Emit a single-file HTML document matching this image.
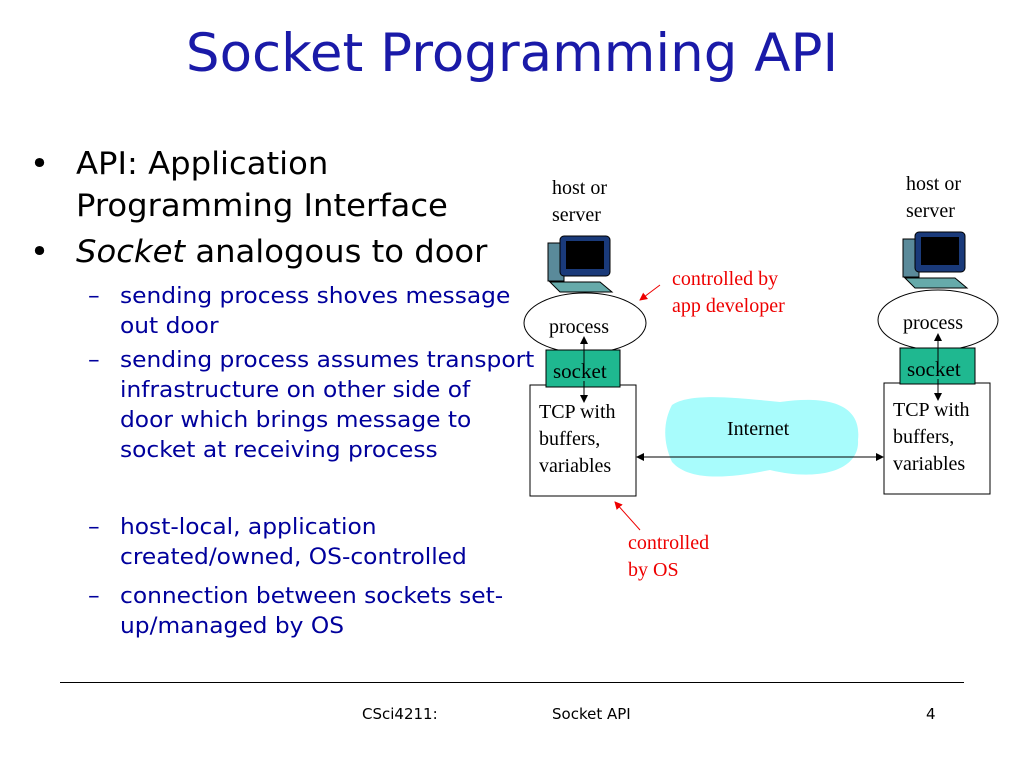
<!DOCTYPE html>
<html><head><meta charset="utf-8"><style>
body{margin:0;width:1024px;height:768px;background:#fff;position:relative;overflow:hidden;font-family:"DejaVu Sans","Liberation Sans",sans-serif}
.a{position:absolute;white-space:nowrap}
.t{font-family:"Liberation Serif",serif;font-size:20px;line-height:27px}
.b1{font-size:31px;color:#000;line-height:42px;transform:scaleX(1.04);transform-origin:left top}
.b2{font-size:22px;color:#00009c;line-height:30px;transform:scaleX(1.06);transform-origin:left top}
</style></head><body>
<div class="a" style="left:0;width:1024px;text-align:center;top:23px;font-size:53px;color:#1a1aa8">Socket Programming API</div>
<div class="a b1" style="left:30px;top:143px">•</div>
<div class="a b1" style="left:76px;top:143px">API: Application<br>Programming Interface</div>
<div class="a b1" style="left:30px;top:231px">•</div>
<div class="a b1" style="left:76px;top:231px"><i>Socket</i> analogous to door</div>
<div class="a b2" style="left:88px;top:282px">–</div>
<div class="a b2" style="left:120px;top:282px">sending process shoves message<br>out door</div>
<div class="a b2" style="left:88px;top:346px">–</div>
<div class="a b2" style="left:120px;top:346px">sending process assumes transport<br>infrastructure on other side of<br>door which brings message to<br>socket at receiving process</div>
<div class="a b2" style="left:88px;top:513px">–</div>
<div class="a b2" style="left:120px;top:513px">host-local, application<br>created/owned, OS-controlled</div>
<div class="a b2" style="left:88px;top:582px">–</div>
<div class="a b2" style="left:120px;top:582px">connection between sockets set-<br>up/managed by OS</div>
<div class="a" style="left:60px;top:682px;width:904px;border-top:1px solid #000"></div>
<div class="a" style="left:362px;top:705px;font-size:15px">CSci4211:</div>
<div class="a" style="left:552px;top:705px;font-size:15px">Socket API</div>
<div class="a" style="left:926px;top:705px;font-size:15px">4</div>
<svg class="a" style="left:0;top:0" width="1024" height="768">
<defs><marker id="m" markerWidth="8" markerHeight="8" refX="7" refY="4" orient="auto"><path d="M0,0L8,4L0,8z" fill="#000"/></marker>
<marker id="r" markerWidth="8" markerHeight="8" refX="7" refY="4" orient="auto"><path d="M0,0L8,4L0,8z" fill="#e00"/></marker>
<marker id="ms" markerWidth="8" markerHeight="8" refX="1" refY="4" orient="auto"><path d="M8,0L0,4L8,8z" fill="#000"/></marker></defs>
<path d="M672,405 C690,392 740,398 780,402 C830,395 862,405 858,440 C860,470 820,482 770,470 C730,478 690,482 672,462 C662,440 664,420 672,405z" fill="#a8fcfc"/>
<g id="pc"><rect x="548" y="243" width="16" height="38" fill="#5a8a9a" stroke="#000"/><rect x="560" y="236" width="50" height="40" rx="4" fill="#1a3a7a" stroke="#000"/><rect x="566" y="241" width="38" height="28" fill="#000"/><path d="M550,282 L600,282 L612,292 L560,292z" fill="#6aa" stroke="#000"/></g>
<use href="#pc" x="355" y="-4"/>
<ellipse cx="585" cy="323" rx="61" ry="30" fill="#fff" stroke="#000"/>
<ellipse cx="938" cy="320" rx="60" ry="30" fill="#fff" stroke="#000"/>
<rect x="530" y="385" width="106" height="111" fill="#fff" stroke="#000"/>
<rect x="884" y="383" width="106" height="111" fill="#fff" stroke="#000"/>
<rect x="546" y="350" width="74" height="37" fill="#1fb890" stroke="#000"/>
<rect x="900" y="348" width="75" height="36" fill="#1fb890" stroke="#000"/>
<line x1="584" y1="364" x2="584" y2="337" stroke="#000" marker-end="url(#m)"/>
<line x1="584" y1="381" x2="584" y2="402" stroke="#000" marker-end="url(#m)"/>
<line x1="938" y1="362" x2="938" y2="334" stroke="#000" marker-end="url(#m)"/>
<line x1="938" y1="379" x2="938" y2="400" stroke="#000" marker-end="url(#m)"/>
<line x1="637" y1="457" x2="883" y2="457" stroke="#000" marker-start="url(#ms)" marker-end="url(#m)"/>
<line x1="660" y1="285" x2="640" y2="300" stroke="#e00" marker-end="url(#r)"/>
<line x1="640" y1="530" x2="615" y2="502" stroke="#e00" marker-end="url(#r)"/>
</svg>
<div class="a t" style="left:552px;top:175px">host or<br>server</div>
<div class="a t" style="left:906px;top:171px">host or<br>server</div>
<div class="a t" style="left:549px;top:314px">process</div>
<div class="a t" style="left:903px;top:310px">process</div>
<div class="a t" style="left:553px;top:358px;font-size:21px">socket</div>
<div class="a t" style="left:907px;top:356px;font-size:21px">socket</div>
<div class="a t" style="left:539px;top:399px">TCP with<br>buffers,<br>variables</div>
<div class="a t" style="left:893px;top:397px">TCP with<br>buffers,<br>variables</div>
<div class="a t" style="left:727px;top:416px">Internet</div>
<div class="a t" style="left:672px;top:266px;color:#e00">controlled by<br>app developer</div>
<div class="a t" style="left:628px;top:530px;color:#e00">controlled<br>by OS</div>
</body></html>
